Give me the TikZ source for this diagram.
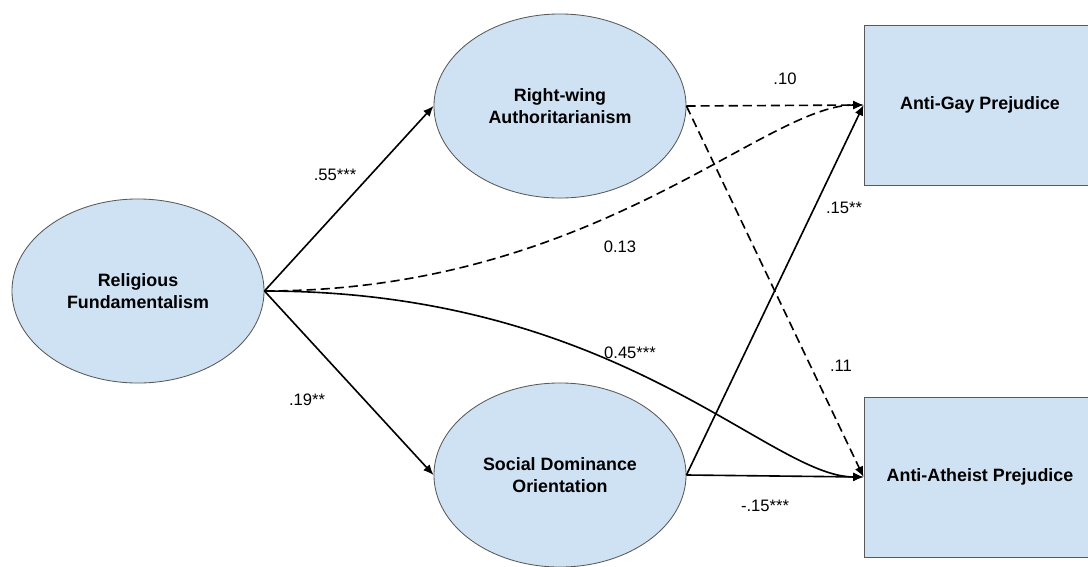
\documentclass[tikz,border=0pt]{standalone}
\usepackage{fontspec}
\setmainfont{Liberation Sans}
\usetikzlibrary{shapes.geometric,arrows.meta}
\definecolor{boxblue}{HTML}{CFE2F3}
\definecolor{edgegray}{HTML}{595959}

\begin{document}
\begin{tikzpicture}[x=0.025cm, y=-0.025cm,
    latent/.style={ellipse, draw=edgegray, line width=0.6pt, fill=boxblue,
        minimum width=6.3cm, minimum height=4.6cm, align=center,
        font=\fontsize{12.7}{15.5}\selectfont\bfseries},
    observed/.style={rectangle, draw=edgegray, line width=0.6pt, fill=boxblue,
        minimum width=5.8cm, minimum height=4cm,
        font=\fontsize{12.7}{15.5}\selectfont\bfseries},
    effect/.style={line width=1.15pt, -{Latex[length=2.6mm,width=2.2mm]}},
    noeffect/.style={effect, dash pattern=on 6.5pt off 3.5pt},
    coef/.style={font=\fontsize{11.8}{14}\selectfont}]

        \useasboundingbox (0, 0) rectangle (1088, 567);

        % Predictor: Religious Fundamentalism
        \node[latent] (rf) at (138, 291) {Religious\\Fundamentalism};

        % Mediators
        \node[latent] (rwa) at (560, 106) {Right-wing\\Authoritarianism};
        \node[latent] (sdo) at (560, 475) {Social Dominance\\Orientation};

        % Outcomes
        \node[observed] (gay) at (980, 105) {Anti-Gay Prejudice};
        \node[observed] (ath) at (980, 477) {Anti-Atheist Prejudice};

        % Paths from Religious Fundamentalism
        \draw[effect] (rf.east) -- (rwa.west);
        \draw[effect] (rf.east) -- (sdo.west);
        \draw[noeffect] (rf.east) .. controls +(330, 0) and +(-100, 0) .. (gay.west);
        \draw[effect] (rf.east) .. controls +(355, 0) and +(-95, 0) .. (ath.west);

        % Paths from the mediators
        \draw[noeffect] (rwa.east) -- (gay.west);
        \draw[noeffect] (rwa.east) -- (ath.west);
        \draw[effect] (sdo.east) -- (gay.west);
        \draw[effect] (sdo.east) -- (ath.west);

        % Coefficients
        \node[coef] (c1) at (335, 175) {.55***};
        \node[coef] (c2) at (307, 400) {.19**};
        \node[coef] (c3) at (620, 247) {0.13};
        \node[coef] (c4) at (630, 353) {0.45***};
        \node[coef] (c5) at (785, 79) {.10};
        \node[coef] (c6) at (844, 208) {.15**};
        \node[coef] (c7) at (841, 366) {.11};
        \node[coef] (c8) at (765, 506) {-.15***};

\end{tikzpicture}
\end{document}
